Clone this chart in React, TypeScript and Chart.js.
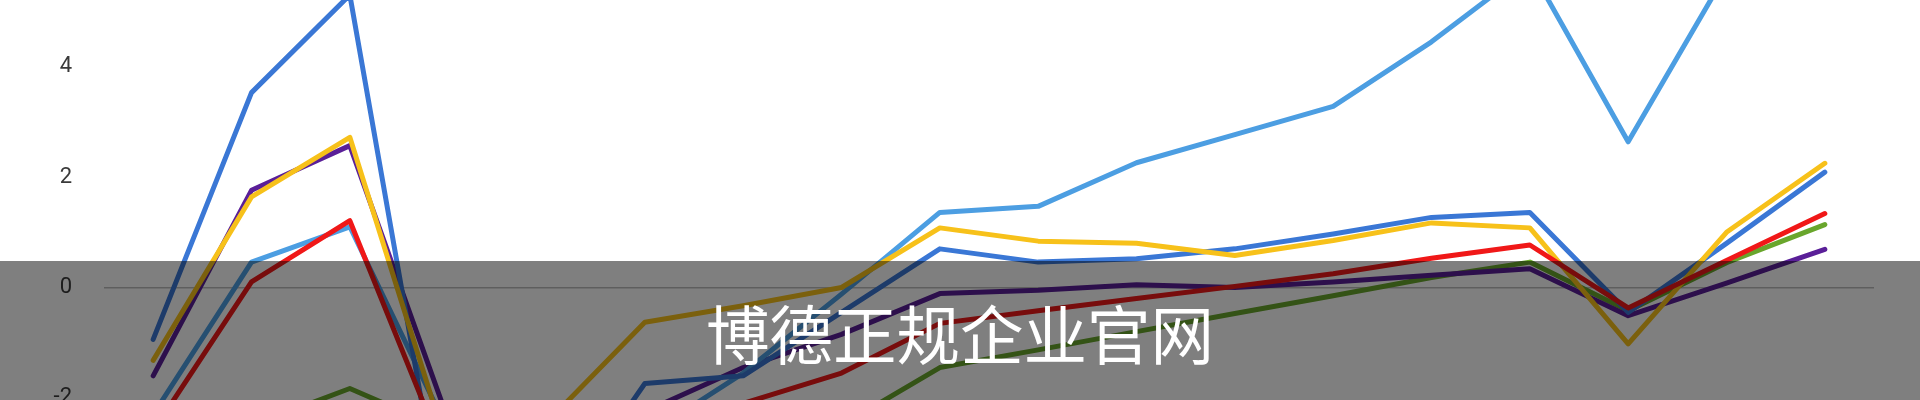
import { useEffect, useRef } from 'react';
import { Chart, registerables } from 'chart.js';

Chart.register(...registerables);

const categories = ['1', '2', '3', '4', '5', '6', '7', '8', '9', '10', '11', '12', '13', '14', '15', '16', '17', '18'];

const redSeries = [-2.6, 0.1, 1.21, -3.2, -2.9, -2.5, -2.1, -1.55, -0.65, -0.42, -0.2, 0.02, 0.25, 0.53, 0.77, -0.37, 0.49, 1.34];
const yellowSeries = [-1.32, 1.64, 2.72, -2.95, -2.45, -0.63, -0.33, 0.0, 1.08, 0.84, 0.8, 0.58, 0.85, 1.17, 1.08, -1.02, 1.0, 2.25];
const darkBlueSeries = [-0.94, 3.53, 5.3, -4.8, -4.3, -1.74, -1.6, -0.45, 0.7, 0.46, 0.52, 0.7, 0.97, 1.27, 1.36, -0.45, 0.8, 2.09];
const lightBlueSeries = [-2.3, 0.46, 1.1, -2.6, -3.0, -2.7, -1.55, -0.12, 1.36, 1.47, 2.26, 2.77, 3.28, 4.45, 5.8, 2.64, 5.7, 6.2];
const purpleSeries = [-1.6, 1.76, 2.57, -2.4, -2.8, -2.25, -1.45, -0.85, -0.11, -0.05, 0.05, 0.0, 0.1, 0.22, 0.34, -0.51, 0.08, 0.69];
const greenSeries = [-3.0, -2.5, -1.83, -2.6, -3.2, -3.0, -2.9, -2.5, -1.45, -1.13, -0.8, -0.47, -0.15, 0.18, 0.46, -0.42, 0.45, 1.14];

const seriesNames = ['红', '黄', '深蓝', '浅蓝', '紫', '绿'];
const seriesColors = ['#f01818', '#f7c11a', '#3a77d5', '#4c9ee2', '#5a1f98', '#69a62c'];
const yTickValues = [-2, 0, 2, 4];
const overlayText = '博德正规企业官网';

export default function App() {
  const canvasRef = useRef<HTMLCanvasElement | null>(null);

  useEffect(() => {
    document.body.style.margin = '0';
    document.body.style.overflow = 'hidden';
    document.body.style.background = '#ffffff';
    const canvas = canvasRef.current;
    if (!canvas) return;
    const allSeries = [redSeries, yellowSeries, darkBlueSeries, lightBlueSeries, purpleSeries, greenSeries];
    const chart = new Chart(canvas, {
      type: 'line',
      data: {
        labels: categories,
        datasets: allSeries.map((d, i) => ({
          label: seriesNames[i],
          data: d,
          borderColor: seriesColors[i],
          backgroundColor: seriesColors[i],
          borderWidth: 5,
          pointRadius: 0,
          pointHoverRadius: 0,
          tension: 0,
          fill: false,
          borderJoinStyle: 'round' as const,
          borderCapStyle: 'round' as const,
        })),
      },
      options: {
        animation: false,
        responsive: true,
        maintainAspectRatio: false,
        layout: { padding: { left: 0, right: 46, top: 0, bottom: 0 } },
        plugins: {
          legend: { display: false },
          tooltip: { enabled: false },
        },
        scales: {
          x: {
            display: false,
            offset: true,
          },
          y: {
            min: -2.038,
            max: 5.208,
            afterFit: (scale: any) => {
              scale.width = 104;
              scale.paddingTop = 0;
              scale.paddingBottom = 0;
            },
            border: { display: false },
            grid: {
              drawTicks: false,
              lineWidth: 1.5,
              color: (ctx: any) => (ctx.tick && ctx.tick.value === 0 ? '#bdbdbd' : 'rgba(0,0,0,0)'),
            },
            afterBuildTicks: (scale: any) => {
              scale.ticks = yTickValues.map((v) => ({ value: v }));
            },
            ticks: {
              padding: 32,
              color: '#3a3a3a',
              font: { family: 'Roboto, "Liberation Sans", sans-serif', size: 22 },
              callback: (v: any) => String(v),
            },
          },
        },
      },
    });
    return () => chart.destroy();
  }, []);

  return (
    <div style={{ position: 'relative', width: 1920, height: 400, overflow: 'hidden', background: '#fff' }}>
      <canvas ref={canvasRef} style={{ position: 'absolute', left: 0, top: 0, width: 1920, height: 400 }} />
      <div
        style={{
          position: 'absolute',
          left: 0,
          top: 261,
          width: 1920,
          height: 139,
          background: 'rgba(0,0,0,0.5)',
          display: 'flex',
          alignItems: 'center',
          justifyContent: 'center',
          color: '#ffffff',
          fontFamily: '"Noto Sans CJK SC", "Noto Sans", sans-serif',
          fontSize: 63.5,
          fontWeight: 400,
          lineHeight: 1,
          paddingTop: 2,
          boxSizing: 'border-box',
        }}
      >
        {overlayText}
      </div>
    </div>
  );
}
